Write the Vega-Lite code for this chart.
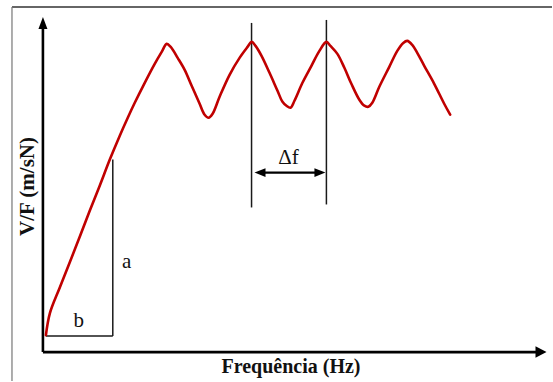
{
  "$schema": "https://vega.github.io/schema/vega-lite/v6.json",
  "width": 553,
  "height": 382,
  "autosize": {"type": "fit", "contains": "padding"},
  "padding": 0,
  "background": "white",
  "config": {"view": {"stroke": null}},
  "datasets": {
    "segments": [
      {"g": "frame", "f": -31, "f2": 510, "A": 346, "A2": 346},
      {"g": "frame2", "f": -31, "f2": -31, "A": 346, "A2": -29},
      {"g": "axis", "f": 0, "f2": 0, "A": 0, "A2": 331},
      {"g": "axis", "f": 0, "f2": 498, "A": 0, "A2": 0},
      {"g": "guide", "f": 209, "f2": 209, "A": 145, "A2": 330},
      {"g": "guide", "f": 284, "f2": 284, "A": 148, "A2": 333},
      {"g": "guide", "f": 70, "f2": 70, "A": 16, "A2": 193},
      {"g": "guide", "f": 3, "f2": 70, "A": 16, "A2": 16},
      {"g": "shaft", "f": 216, "f2": 279, "A": 180, "A2": 180}
    ],
    "heads": [
      {"dir": "up", "f": 0, "A": 330},
      {"dir": "right", "f": 499, "A": 0},
      {"dir": "left", "f": 217.5, "A": 180},
      {"dir": "right2", "f": 277.5, "A": 180}
    ],
    "curve": [
      {"f": 3, "A": 17}, {"f": 7, "A": 39}, {"f": 17, "A": 65}, {"f": 32, "A": 103},
      {"f": 47, "A": 142}, {"f": 57, "A": 167}, {"f": 67, "A": 193}, {"f": 77, "A": 217},
      {"f": 85, "A": 235}, {"f": 92, "A": 250}, {"f": 102, "A": 270}, {"f": 112, "A": 289},
      {"f": 119, "A": 301}, {"f": 124, "A": 309}, {"f": 128, "A": 306}, {"f": 135, "A": 295},
      {"f": 142, "A": 283}, {"f": 149, "A": 267}, {"f": 157, "A": 249}, {"f": 162, "A": 238},
      {"f": 166, "A": 235}, {"f": 170, "A": 239}, {"f": 177, "A": 256}, {"f": 187, "A": 278},
      {"f": 197, "A": 295}, {"f": 205, "A": 306}, {"f": 209, "A": 311}, {"f": 213, "A": 307},
      {"f": 219, "A": 297}, {"f": 227, "A": 280}, {"f": 235, "A": 262}, {"f": 240, "A": 251},
      {"f": 244, "A": 247}, {"f": 248, "A": 245}, {"f": 252, "A": 252}, {"f": 260, "A": 270},
      {"f": 269, "A": 287}, {"f": 277, "A": 302}, {"f": 284, "A": 311}, {"f": 288, "A": 307},
      {"f": 295, "A": 299}, {"f": 302, "A": 285}, {"f": 309, "A": 269}, {"f": 317, "A": 253},
      {"f": 322, "A": 247}, {"f": 326, "A": 246}, {"f": 330, "A": 250}, {"f": 337, "A": 266},
      {"f": 347, "A": 286}, {"f": 355, "A": 302}, {"f": 361, "A": 310}, {"f": 365, "A": 312},
      {"f": 370, "A": 308}, {"f": 375, "A": 300}, {"f": 382, "A": 287}, {"f": 392, "A": 269},
      {"f": 402, "A": 249}, {"f": 408, "A": 238}
    ],
    "labels": [
      {"t": "a", "f": 84, "A": 90},
      {"t": "b", "f": 36, "A": 31},
      {"t": "Δf", "f": 246, "A": 195}
    ],
    "titles": [
      {"t": "Frequência (Hz)", "f": 248.5, "A": -15, "axis": "x"},
      {"t": "V/F (m/sN)", "f": -15, "A": 166, "axis": "y"}
    ]
  },
  "layer": [
    {
      "data": {"name": "segments"},
      "transform": [{"filter": "datum.g === 'frame'"}],
      "mark": {"type": "rule", "color": "#333333", "strokeWidth": 1.5},
      "encoding": {
        "x": {"field": "f", "type": "quantitative", "scale": {"domain": [-43, 510], "nice": false, "zero": false}, "axis": null},
        "x2": {"field": "f2"},
        "y": {"field": "A", "type": "quantitative", "scale": {"domain": [-29, 353], "nice": false, "zero": false}, "axis": null},
        "y2": {"field": "A2"}
      }
    },
    {
      "data": {"name": "segments"},
      "transform": [{"filter": "datum.g === 'frame2'"}],
      "mark": {"type": "rule", "color": "#777777", "strokeWidth": 1.2},
      "encoding": {
        "x": {"field": "f", "type": "quantitative", "scale": {"domain": [-43, 510], "nice": false, "zero": false}, "axis": null},
        "x2": {"field": "f2"},
        "y": {"field": "A", "type": "quantitative", "scale": {"domain": [-29, 353], "nice": false, "zero": false}, "axis": null},
        "y2": {"field": "A2"}
      }
    },
    {
      "data": {"name": "segments"},
      "transform": [{"filter": "datum.g === 'axis'"}],
      "mark": {"type": "rule", "color": "#000000", "strokeWidth": 2.6},
      "encoding": {
        "x": {"field": "f", "type": "quantitative", "scale": {"domain": [-43, 510], "nice": false, "zero": false}, "axis": null},
        "x2": {"field": "f2"},
        "y": {"field": "A", "type": "quantitative", "scale": {"domain": [-29, 353], "nice": false, "zero": false}, "axis": null},
        "y2": {"field": "A2"}
      }
    },
    {
      "data": {"name": "segments"},
      "transform": [{"filter": "datum.g === 'guide'"}],
      "mark": {"type": "rule", "color": "#1a1a1a", "strokeWidth": 1.5},
      "encoding": {
        "x": {"field": "f", "type": "quantitative", "scale": {"domain": [-43, 510], "nice": false, "zero": false}, "axis": null},
        "x2": {"field": "f2"},
        "y": {"field": "A", "type": "quantitative", "scale": {"domain": [-29, 353], "nice": false, "zero": false}, "axis": null},
        "y2": {"field": "A2"}
      }
    },
    {
      "data": {"name": "segments"},
      "transform": [{"filter": "datum.g === 'shaft'"}],
      "mark": {"type": "rule", "color": "#000000", "strokeWidth": 2.2},
      "encoding": {
        "x": {"field": "f", "type": "quantitative", "scale": {"domain": [-43, 510], "nice": false, "zero": false}, "axis": null},
        "x2": {"field": "f2"},
        "y": {"field": "A", "type": "quantitative", "scale": {"domain": [-29, 353], "nice": false, "zero": false}, "axis": null},
        "y2": {"field": "A2"}
      }
    },
    {
      "data": {"name": "curve"},
      "mark": {"type": "line", "color": "#c00000", "strokeWidth": 2.6, "interpolate": "catmull-rom", "strokeCap": "round", "strokeJoin": "round"},
      "encoding": {
        "x": {"field": "f", "type": "quantitative", "scale": {"domain": [-43, 510], "nice": false, "zero": false}, "axis": null},
        "y": {"field": "A", "type": "quantitative", "scale": {"domain": [-29, 353], "nice": false, "zero": false}, "axis": null}
      }
    },
    {
      "data": {"name": "heads"},
      "transform": [{"filter": "datum.dir === 'up'"}],
      "mark": {"type": "point", "shape": "M0,-1L-0.75,1L0.75,1Z", "size": 144, "filled": true, "color": "#000000", "opacity": 1},
      "encoding": {
        "x": {"field": "f", "type": "quantitative", "scale": {"domain": [-43, 510], "nice": false, "zero": false}, "axis": null},
        "y": {"field": "A", "type": "quantitative", "scale": {"domain": [-29, 353], "nice": false, "zero": false}, "axis": null}
      }
    },
    {
      "data": {"name": "heads"},
      "transform": [{"filter": "datum.dir === 'right'"}],
      "mark": {"type": "point", "shape": "M1,0L-1,-1.05L-1,1.05Z", "size": 121, "filled": true, "color": "#000000", "opacity": 1},
      "encoding": {
        "x": {"field": "f", "type": "quantitative", "scale": {"domain": [-43, 510], "nice": false, "zero": false}, "axis": null},
        "y": {"field": "A", "type": "quantitative", "scale": {"domain": [-29, 353], "nice": false, "zero": false}, "axis": null}
      }
    },
    {
      "data": {"name": "heads"},
      "transform": [{"filter": "datum.dir === 'left'"}],
      "mark": {"type": "point", "shape": "M-1,0L1,-0.8L1,0.8Z", "size": 121, "filled": true, "color": "#000000", "opacity": 1},
      "encoding": {
        "x": {"field": "f", "type": "quantitative", "scale": {"domain": [-43, 510], "nice": false, "zero": false}, "axis": null},
        "y": {"field": "A", "type": "quantitative", "scale": {"domain": [-29, 353], "nice": false, "zero": false}, "axis": null}
      }
    },
    {
      "data": {"name": "heads"},
      "transform": [{"filter": "datum.dir === 'right2'"}],
      "mark": {"type": "point", "shape": "M1,0L-1,-0.8L-1,0.8Z", "size": 121, "filled": true, "color": "#000000", "opacity": 1},
      "encoding": {
        "x": {"field": "f", "type": "quantitative", "scale": {"domain": [-43, 510], "nice": false, "zero": false}, "axis": null},
        "y": {"field": "A", "type": "quantitative", "scale": {"domain": [-29, 353], "nice": false, "zero": false}, "axis": null}
      }
    },
    {
      "data": {"name": "labels"},
      "mark": {"type": "text", "font": "Liberation Serif", "fontSize": 21, "color": "#111111", "align": "center", "baseline": "middle"},
      "encoding": {
        "x": {"field": "f", "type": "quantitative", "scale": {"domain": [-43, 510], "nice": false, "zero": false}, "axis": null},
        "y": {"field": "A", "type": "quantitative", "scale": {"domain": [-29, 353], "nice": false, "zero": false}, "axis": null},
        "text": {"field": "t"}
      }
    },
    {
      "data": {"name": "titles"},
      "transform": [{"filter": "datum.axis === 'x'"}],
      "mark": {"type": "text", "font": "Liberation Serif", "fontSize": 20, "fontWeight": "bold", "color": "#111111", "align": "center", "baseline": "middle"},
      "encoding": {
        "x": {"field": "f", "type": "quantitative", "scale": {"domain": [-43, 510], "nice": false, "zero": false}, "axis": null},
        "y": {"field": "A", "type": "quantitative", "scale": {"domain": [-29, 353], "nice": false, "zero": false}, "axis": null},
        "text": {"field": "t"}
      }
    },
    {
      "data": {"name": "titles"},
      "transform": [{"filter": "datum.axis === 'y'"}],
      "mark": {"type": "text", "font": "Liberation Serif", "fontSize": 21, "fontWeight": "bold", "color": "#111111", "align": "center", "baseline": "middle", "angle": 270},
      "encoding": {
        "x": {"field": "f", "type": "quantitative", "scale": {"domain": [-43, 510], "nice": false, "zero": false}, "axis": null},
        "y": {"field": "A", "type": "quantitative", "scale": {"domain": [-29, 353], "nice": false, "zero": false}, "axis": null},
        "text": {"field": "t"}
      }
    }
  ]
}
